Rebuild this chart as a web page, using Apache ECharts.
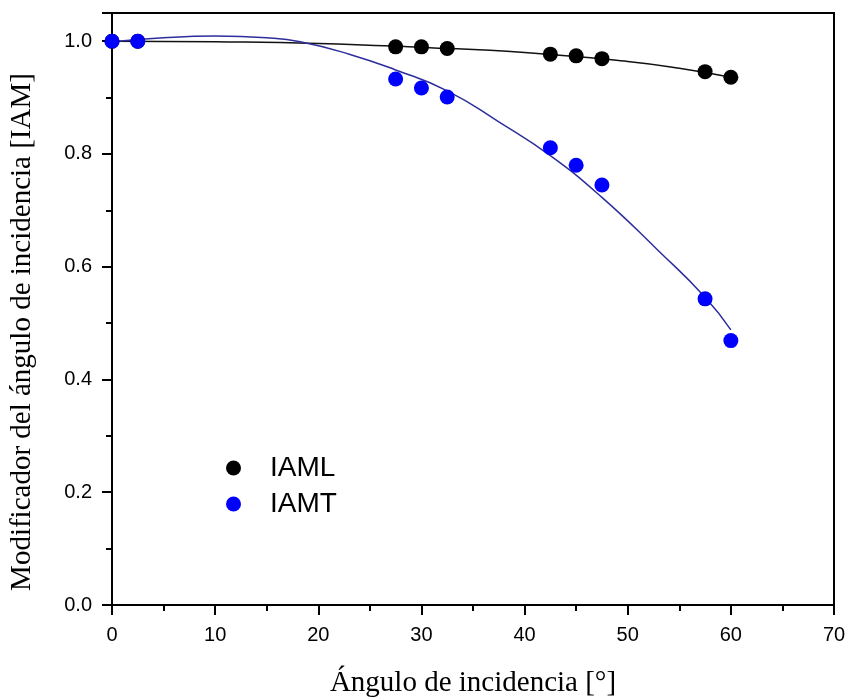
<!DOCTYPE html>
<html>
<head>
<meta charset="utf-8">
<script src="https://cdn.jsdelivr.net/npm/echarts@6/dist/echarts.min.js"></script>
<style>html,body{margin:0;padding:0;background:#fff;}#c{width:850px;height:698px;}</style>
</head>
<body>
<div id="c"></div>
<script>
// Measured points
const angles = [0, 2.5, 27.5, 30, 32.5, 42.5, 45, 47.5, 57.5, 60];
const iamL = [1.0, 1.0, 0.990, 0.990, 0.987, 0.977, 0.974, 0.969, 0.946, 0.936];
const iamT = [1.0, 1.0, 0.933, 0.917, 0.901, 0.811, 0.780, 0.745, 0.543, 0.469];
// Fit curves
const fitAnglesL = [0, 10, 20, 30, 40, 50, 55, 60];
const fitL = [1.0, 0.999, 0.996, 0.989, 0.980, 0.964, 0.952, 0.936];
const fitAnglesT = [0, 5, 10, 15, 18.25, 23, 27.5, 32.5, 37.5, 42.5, 47.5, 53, 57.5, 60];
const fitT = [0.999, 1.006, 1.009, 1.006, 0.999, 0.977, 0.949, 0.912, 0.857, 0.797, 0.723, 0.628, 0.546, 0.488];
const seriesNames = ['IAML', 'IAMT'];
const xTitle = 'Ángulo de incidencia [°]';
const yTitle = 'Modificador del ángulo de incidencia [IAM]';

const zip = (xs, ys) => xs.map((x, i) => [x, ys[i]]);
const chart = echarts.init(document.getElementById('c'), null, {renderer: 'canvas'});
const sans = "'Liberation Sans', Arial, sans-serif";
const serif = "'Liberation Serif', 'Times New Roman', serif";
chart.setOption({
  animation: false,
  backgroundColor: '#fff',
  grid: {left: 112, top: 13, right: 16, bottom: 93, show: true, borderColor: '#000', borderWidth: 2,
         backgroundColor: 'transparent', containLabel: false, outerBoundsMode: 'none'},
  legend: {
    data: seriesNames, orient: 'vertical', left: 221, top: 448,
    itemWidth: 15, itemHeight: 15, itemGap: 6,
    textStyle: {fontFamily: sans, fontSize: 28, color: '#000', padding: [0, 0, 0, 24], lineHeight: 30}
  },
  xAxis: {
    type: 'value', min: 0, max: 70, interval: 10,
    name: xTitle, nameLocation: 'middle', nameGap: 64,
    nameTextStyle: {fontFamily: serif, fontSize: 29, color: '#000'},
    axisLine: {lineStyle: {color: '#000', width: 2}},
    axisTick: {show: true, inside: false, length: 10, lineStyle: {color: '#000', width: 2}},
    minorTick: {show: true, splitNumber: 2, length: 6, lineStyle: {color: '#000', width: 2}},
    axisLabel: {fontFamily: sans, fontSize: 20, color: '#000', margin: 20},
    splitLine: {show: false}
  },
  yAxis: {
    type: 'value', min: 0, max: 1.05, interval: 0.2,
    name: yTitle, nameLocation: 'middle', nameGap: 75,
    nameTextStyle: {fontFamily: serif, fontSize: 29, color: '#000', padding: [0, 46, 0, 0]},
    axisLine: {lineStyle: {color: '#000', width: 2}},
    axisTick: {show: true, inside: false, length: 10, lineStyle: {color: '#000', width: 2}},
    minorTick: {show: true, splitNumber: 2, length: 6, lineStyle: {color: '#000', width: 2}},
    axisLabel: {fontFamily: sans, fontSize: 20, color: '#000', margin: 20, showMaxLabel: false,
                formatter: v => v.toFixed(1)},
    splitLine: {show: false}
  },
  series: [
    {name: 'IAML fit', type: 'line', data: zip(fitAnglesL, fitL), smooth: true, showSymbol: false,
     lineStyle: {color: '#111', width: 1.5}, z: 2},
    {name: 'IAMT fit', type: 'line', data: zip(fitAnglesT, fitT), smooth: true, showSymbol: false,
     lineStyle: {color: '#2d2d9c', width: 1.5}, z: 2},
    {name: 'IAML', type: 'scatter', data: zip(angles, iamL), symbol: 'circle', symbolSize: 15,
     itemStyle: {color: '#000', opacity: 1}, z: 3},
    {name: 'IAMT', type: 'scatter', data: zip(angles, iamT), symbol: 'circle', symbolSize: 15,
     itemStyle: {color: '#0000ff', opacity: 1}, z: 4}
  ]
});
</script>
</body>
</html>
